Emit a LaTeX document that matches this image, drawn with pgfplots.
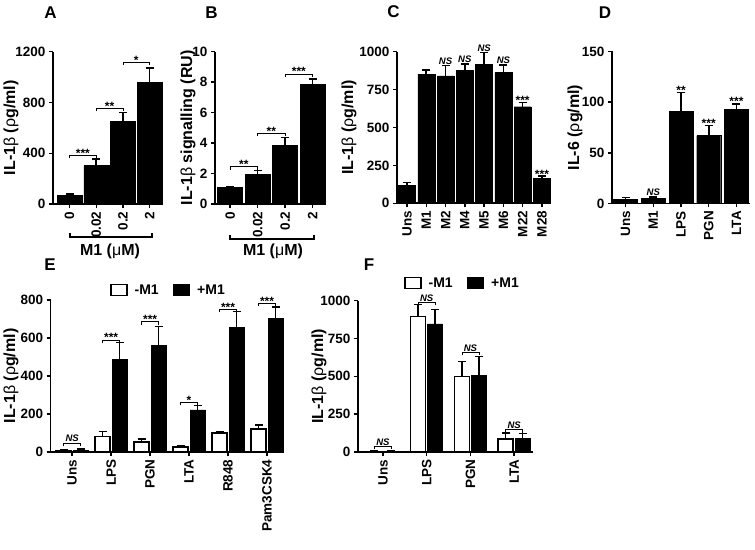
\documentclass[border=0pt]{standalone}
\usepackage{pgfplots}
\pgfplotsset{compat=1.18}
\usepackage{fontspec}
\setmainfont{Liberation Sans}

\newcommand{\tfs}{\fontsize{13.5}{13.5}\selectfont\bfseries}
\newcommand{\lfs}{\fontsize{16}{16}\selectfont\bfseries}
\newcommand{\ilb}{IL-1{\mdseries β} ({\mdseries ρ}g/ml)}

\tikzset{
  ns/.style={anchor=south, inner sep=0.8pt, font=\fontsize{9.5}{9.5}\selectfont\bfseries\itshape},
  st/.style={anchor=south, inner sep=0.8pt, yshift=-3pt, font=\fontsize{12}{12}\selectfont\bfseries},
  panel/.style={font=\fontsize{17}{17}\selectfont\bfseries},
}

% bracket between two x positions (axis units): x1 x2 xmid y text
\newcommand{\brk}[5]{%
  \draw[line width=0.8pt] ([yshift=-3pt]axis cs:#1,#4) -- (axis cs:#1,#4) -- (axis cs:#2,#4) -- ([yshift=-3pt]axis cs:#2,#4);
  \node[st] at (axis cs:#3,#4) {#5};}
% bracket within a pair of grouped bars
\newcommand{\pbrk}[3]{%
  \draw[line width=0.8pt] ([xshift=-8.5pt,yshift=-3pt]axis cs:#1,#2) -- ([xshift=-8.5pt]axis cs:#1,#2) -- ([xshift=8.5pt]axis cs:#1,#2) -- ([xshift=8.5pt,yshift=-3pt]axis cs:#1,#2);
  \node[st] at (axis cs:#1,#2) {#3};}
\newcommand{\pns}[2]{%
  \draw[line width=0.8pt] ([xshift=-8.5pt,yshift=-3pt]axis cs:#1,#2) -- ([xshift=-8.5pt]axis cs:#1,#2) -- ([xshift=8.5pt]axis cs:#1,#2) -- ([xshift=8.5pt,yshift=-3pt]axis cs:#1,#2);
  \node[ns] at (axis cs:#1,#2) {NS};}

\pgfplotsset{
  /pgfplots/ybar legend/.style={legend image code/.code={\draw[##1,line width=1.5pt] (0pt,-5pt) rectangle (16pt,6pt);}},
  gp/.style={
    scale only axis, clip=false,
    anchor=south west,
    axis x line*=bottom, axis y line*=left,
    axis line style={line width=1.6pt},
    every tick/.style={black, line width=1.4pt},
    tick align=outside, major tick length=4pt,
    ymin=0, enlarge x limits=false, enlarge y limits=false,
    tick label style={font=\tfs},
    /pgf/number format/assume math mode=true,
    /pgf/number format/1000 sep={},
    label style={font=\lfs},
    xticklabel style={rotate=90, anchor=east},
    ybar,
    error bars/y dir=plus, error bars/y explicit,
    error bars/error bar style={line width=1.6pt, black},
    error bars/error mark options={rotate=90, mark size=4pt, line width=1.6pt, black},
  },
  yl/.style={ylabel style={at={(axis description cs:#1,0.5)}, anchor=center}},
  leg/.style={legend style={at={#1}, anchor=center, draw=none, fill=none,
    legend columns=2, font=\fontsize{14}{14}\selectfont\bfseries,
    /tikz/every odd column/.append style={column sep=5pt},
    /tikz/every even column/.append style={column sep=12pt}}},
  bk/.style={fill=black, draw=black},
  wh/.style={fill=white, draw=black, line width=1.5pt},
}

\begin{document}
\begin{tikzpicture}
\useasboundingbox (0pt,0pt) rectangle (755pt,549pt);

% panel letters
\node[panel] at (50.5pt,536.5pt) {A};
\node[panel] at (211.5pt,536.5pt) {B};
\node[panel] at (393.5pt,537pt) {C};
\node[panel] at (605pt,536.5pt) {D};
\node[panel] at (50pt,284pt) {E};
\node[panel] at (369pt,284pt) {F};

% ---------------- A ----------------
\begin{axis}[gp, at={(53pt,345pt)}, width=110pt, height=152.3pt,
  xmin=-0.62, xmax=3.5, ymax=1200, ytick={0,400,800,1200},
  xtick={0,1,2,3}, xticklabels={0,0.02,0.2,2}, bar width=25pt,
  ylabel={\ilb}, yl=-0.382]
\addplot[bk] table[x=x,y=y,y error=e]{
x y e
0 66 14
1 302 52
2 649 73
3 956 115
};
\brk{0}{1}{0.5}{386}{***}
\brk{1}{2}{1.5}{756}{**}
\brk{2}{3}{2.5}{1118}{*}
\end{axis}
\draw[line width=1.2pt] (70pt,316pt) -- (70pt,312pt) -- (152pt,312pt) -- (152pt,316pt);
\node[font=\lfs] at (110pt,298pt) {M1 ({\mdseries μ}M)};

% ---------------- B ----------------
\begin{axis}[gp, at={(215pt,345pt)}, width=110pt, height=152.3pt,
  xmin=-0.55, xmax=3.45, ymax=10, ytick={0,2,4,6,8,10},
  xtick={0,1,2,3}, xticklabels={0,0.02,0.2,2}, bar width=25pt,
  ylabel={IL-1{\mdseries β} signalling (RU)}, yl=-0.245]
\addplot[bk] table[x=x,y=y,y error=e]{
x y e
0 1.1 0.05
1 1.95 0.25
2 3.87 0.5
3 7.85 0.35
};
\brk{0}{1}{0.5}{2.45}{**}
\brk{1}{2}{1.5}{4.64}{**}
\brk{2}{3}{2.5}{8.54}{***}
\end{axis}
\draw[line width=1.2pt] (230pt,314pt) -- (230pt,310pt) -- (314pt,310pt) -- (314pt,314pt);
\node[font=\lfs] at (273pt,298pt) {M1 ({\mdseries μ}M)};

% ---------------- C ----------------
\begin{axis}[gp, at={(397pt,345.7pt)}, width=154pt, height=151.6pt,
  xmin=-0.52, xmax=7.47, ymax=1000, ytick={0,250,500,750,1000},
  xtick={0,...,7}, xticklabels={Uns,M1,M2,M4,M5,M6,M22,M28}, bar width=17pt,
  ylabel={\ilb}, yl=-0.312]
\addplot[bk] table[x=x,y=y,y error=e]{
x y e
0 119 17
1 851 28
2 840 68
3 877 42
4 916 80
5 862 52
6 637 29
7 165 15
};
\node[ns] at (axis cs:2,908) {NS};
\node[ns] at (axis cs:3,919) {NS};
\node[ns] at (axis cs:4,996) {NS};
\node[ns] at (axis cs:5,914) {NS};
\node[st] at (axis cs:6,666) {***};
\node[st] at (axis cs:7,180) {***};
\end{axis}

% ---------------- D ----------------
\begin{axis}[gp, at={(612pt,345.5pt)}, width=138pt, height=152pt,
  xmin=-0.49, xmax=4.49, ymax=150, ytick={0,50,100,150},
  xtick={0,...,4}, xticklabels={Uns,M1,LPS,PGN,LTA}, bar width=24pt,
  ylabel={IL-6 ({\mdseries ρ}g/ml)}, yl=-0.268]
\addplot[bk] table[x=x,y=y,y error=e]{
x y e
0 4.2 1.7
1 4.9 1.6
2 90.8 18.7
3 67 9.8
4 92.6 5.6
};
\node[ns] at (axis cs:1,6.5) {NS};
\node[st] at (axis cs:2,109.5) {**};
\node[st] at (axis cs:3,76.8) {***};
\node[st] at (axis cs:4,98.2) {***};
\end{axis}

% ---------------- E ----------------
\begin{axis}[gp, at={(50.7pt,97pt)}, width=232.3pt, height=152pt,
  xmin=-0.55, xmax=5.41, ymax=800, ytick={0,200,400,600,800},
  xtick={0,...,5}, xticklabels={Uns,LPS,PGN,LTA,R848,Pam3CSK4},
  bar width=15pt,
  ylabel={\ilb}, yl=-0.171, leg={(0.507,1.0625)}]
\addplot[wh] table[x=x,y=y,y error=e]{
x y e
0 5 5
1 82 26
2 52 16
3 26 9
4 100 8
5 121 21
};
\addlegendentry{-M1}
\addplot[bk] table[x=x,y=y,y error=e]{
x y e
0 10 5
1 488 88
2 560 100
3 222 23
4 655 84
5 704 58
};
\addlegendentry{+M1}
\pns{0}{47}
\pbrk{1}{590}{***}
\pbrk{2}{686}{***}
\pbrk{3}{261}{*}
\pbrk{4}{751}{***}
\pbrk{5}{783}{***}
\end{axis}

% ---------------- F ----------------
\begin{axis}[gp, at={(358pt,97pt)}, width=175pt, height=151.3pt,
  xmin=-0.57, xmax=3.43, ymax=1000, ytick={0,250,500,750,1000},
  xtick={0,...,3}, xticklabels={Uns,LPS,PGN,LTA},
  bar width=15pt,
  ylabel={\ilb}, yl=-0.223, leg={(0.597,1.114)}]
\addplot[wh] table[x=x,y=y,y error=e]{
x y e
0 3 2
1 894 82
2 499 99
3 86 39
};
\addlegendentry{-M1}
\addplot[bk] table[x=x,y=y,y error=e]{
x y e
0 3 2
1 846 97
2 505 126
3 88 33
};
\addlegendentry{+M1}
\pns{0}{37}
\pns{1}{989}
\pns{2}{659}
\pns{3}{147}
\end{axis}
\end{tikzpicture}
\end{document}
